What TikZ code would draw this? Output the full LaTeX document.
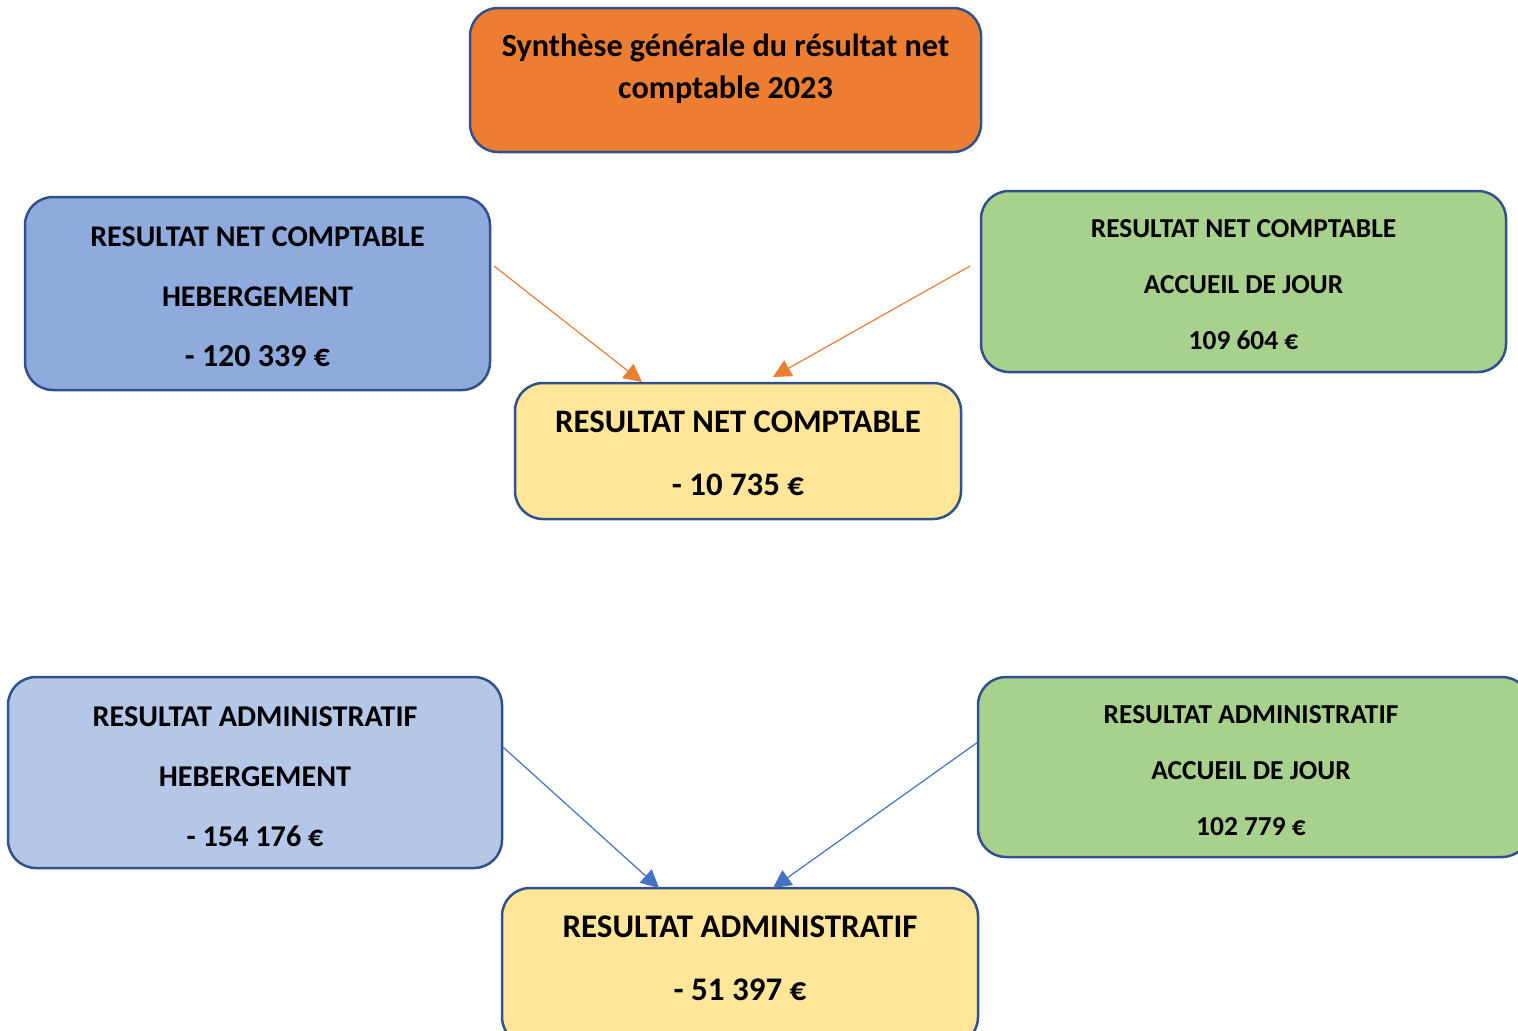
\documentclass[tikz,border=0pt]{standalone}
\usepackage{fontspec}
\setmainfont{Carlito}
\usetikzlibrary{arrows.meta}
\definecolor{bordc}{HTML}{2F528F}
\definecolor{orfill}{HTML}{ED7D31}
\definecolor{bluefill}{HTML}{8FAADC}
\definecolor{lbluefill}{HTML}{B4C7E7}
\definecolor{greenfill}{HTML}{A9D18E}
\definecolor{yelfill}{HTML}{FFE699}
\definecolor{orarrow}{HTML}{ED7D31}
\definecolor{bluearrow}{HTML}{4472C4}
\tikzset{
  box/.style={draw=bordc, line width=1.25pt, rounded corners=14pt, inner sep=0pt},
  txt/.style={align=center, font=\bfseries, inner sep=0pt},
  conn/.style={line width=0.6pt, -{Triangle[length=9pt,width=9pt]}},
}
\begin{document}
\begin{tikzpicture}[x=0.5pt,y=-0.5pt]
\useasboundingbox (0,0) rectangle (1518,1030);
% boxes
\node[box, fill=orfill, minimum width=255.5pt, minimum height=72pt] (title) at (725.5,80) {};
\node[box, fill=bluefill, minimum width=232.5pt, minimum height=96.5pt] (lt) at (257.5,293.5) {};
\node[box, fill=greenfill, minimum width=262.5pt, minimum height=90.5pt] (rt) at (1243.5,281.5) {};
\node[box, fill=yelfill, minimum width=223pt, minimum height=68pt] (mid) at (738,451) {};
\node[box, fill=lbluefill, minimum width=247pt, minimum height=95.5pt] (lb) at (255,772.5) {};
\node[box, fill=greenfill, minimum width=276pt, minimum height=90pt] (rb) at (1254,767) {};
\node[box, fill=yelfill, minimum width=238pt, minimum height=78.5pt] (bot) at (740,966.5) {};
% texts
\node[txt, font=\bfseries\fontsize{16.1}{21}\selectfont] (titlet) at (725.5,69) {Synthèse générale du résultat net\\comptable 2023};
\node[txt, font=\bfseries\fontsize{15}{30}\selectfont] (ltt) at (257.5,297) {RESULTAT NET COMPTABLE\\HEBERGEMENT\\{\fontsize{16}{31}\selectfont - 120 339 €}};
\node[txt, font=\bfseries\fontsize{13.7}{28}\selectfont] (rtt) at (1243.5,284.5) {RESULTAT NET COMPTABLE\\ACCUEIL DE JOUR\\109 604 €};
\node[txt, font=\bfseries\fontsize{16.4}{31.5}\selectfont] (midt) at (738,453.5) {RESULTAT NET COMPTABLE\\- 10 735 €};
\node[txt, font=\bfseries\fontsize{15.1}{30}\selectfont] (lbt) at (255,777) {RESULTAT ADMINISTRATIF\\HEBERGEMENT\\- 154 176 €};
\node[txt, font=\bfseries\fontsize{13.7}{28}\selectfont] (rbt) at (1251,771) {RESULTAT ADMINISTRATIF\\ACCUEIL DE JOUR\\102 779 €};
\node[txt, font=\bfseries\fontsize{16.5}{31.5}\selectfont] (bott) at (740,958.5) {RESULTAT ADMINISTRATIF\\- 51 397 €};
% connector endpoints
\coordinate (o1s) at (494,266);
\coordinate (o1e) at (642,382);
\coordinate (o2s) at (970,266);
\coordinate (o2e) at (773,377);
\coordinate (b1s) at (503,747);
\coordinate (b1e) at (659,888);
\coordinate (b2s) at (978,742);
\coordinate (b2e) at (773,888);
\draw[conn, orarrow] (o1s) -- (o1e);
\draw[conn, orarrow] (o2s) -- (o2e);
\draw[conn, bluearrow] (b1s) -- (b1e);
\draw[conn, bluearrow] (b2s) -- (b2e);
\end{tikzpicture}
\end{document}
